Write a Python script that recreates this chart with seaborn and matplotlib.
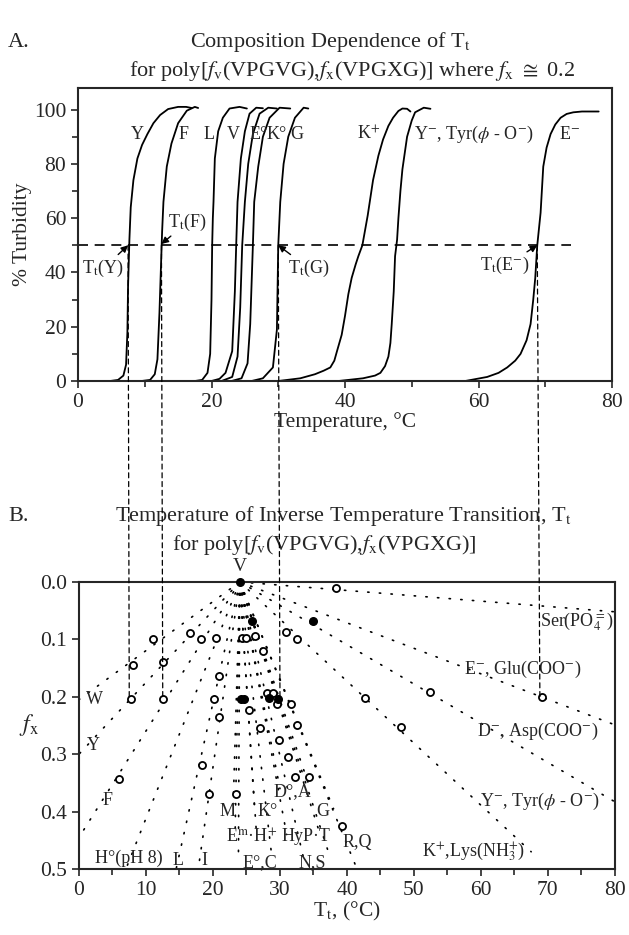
import matplotlib
matplotlib.use("Agg")
import matplotlib.pyplot as plt
import pandas as pd
import seaborn as sns
from matplotlib.patches import ConnectionPatch
from matplotlib.ticker import MultipleLocator

# ---- panel A: turbidity profiles (temperature degC, % turbidity) ----
temp_Y = [4.8, 6.0, 6.8, 7.2, 7.4, 7.5, 7.7, 7.9, 8.3, 8.9, 9.6, 10.4, 11.3, 12.3, 13.5, 15.0, 16.2, 17.0]
turb_Y = [0.0, 0.4, 2.0, 6.0, 18, 35, 52, 64, 74, 82, 87, 91, 95, 98, 100.2, 101, 101, 100.6]
temp_F = [9.5, 10.8, 11.5, 11.9, 12.2, 12.4, 12.6, 12.8, 13.3, 14.0, 15.0, 16.3, 17.5, 18.0]
turb_F = [0.0, 0.4, 2.5, 8, 25, 40, 55, 66, 79, 87.5, 95, 99.6, 101, 100.6]
temp_L = [17.5, 18.6, 19.4, 19.8, 20.0, 20.1, 20.2, 20.3, 20.5, 21.0, 21.7, 22.7, 24.2, 25.3]
turb_L = [0.0, 0.4, 3.0, 10, 30, 50, 60, 66, 82, 92, 97, 100.4, 101, 100.4]
temp_V = [20.0, 21.2, 22.1, 23.1, 23.5, 23.7, 23.9, 24.4, 25.0, 25.7, 26.7, 27.7]
turb_V = [0.0, 0.8, 3.0, 11, 33, 50, 66, 82, 92, 98.5, 100.7, 100.5]
temp_E0 = [21.5, 23.1, 23.9, 24.3, 24.6, 25.0, 25.5, 26.2, 27.2, 28.5, 29.8]
turb_E0 = [0.0, 1.5, 9, 27, 50, 66, 80, 91, 98.5, 100.7, 100.4]
temp_K0 = [23.0, 24.5, 25.4, 25.8, 26.2, 26.4, 27.0, 27.7, 28.7, 30.2, 31.8]
turb_K0 = [0.0, 1.0, 6.5, 21, 50, 66, 79, 90, 97, 100.7, 100.4]
temp_G = [26.0, 27.7, 29.2, 29.8, 30.0, 30.3, 30.8, 31.5, 32.5, 33.8, 34.5]
turb_G = [0.0, 1.0, 5, 19, 50, 66, 80, 90, 97, 100.7, 100.4]
temp_Kp = [30.0, 33.3, 35.5, 36.8, 37.8, 38.4, 38.8, 39.5, 40.0, 40.5, 41.0, 41.6, 42.0, 42.6, 43.4,
           44.2, 45.0, 45.7, 46.5, 47.2, 48.0, 48.6, 49.3, 49.8]
turb_Kp = [0.0, 1.0, 2.5, 3.8, 5, 7.5, 11, 17, 24, 32, 38, 43, 46, 50, 61,
           74, 83, 89, 94, 97, 99.5, 100.4, 100.3, 99.3]
temp_Ym = [39.0, 42.7, 44.5, 45.3, 46.0, 46.5, 46.8, 47.0, 47.3, 47.5, 47.8, 48.0, 48.3, 48.6,
           49.3, 50.0, 50.5, 51.8, 52.8]
turb_Ym = [0.0, 1.0, 2, 3, 5.5, 9, 14, 21, 33, 46, 52, 60, 70, 78, 90, 96, 99, 100.7, 100.3]
temp_Em = [58.0, 61.3, 63.0, 64.3, 65.5, 66.3, 67.2, 67.8, 68.2, 68.5, 68.8, 69.3, 69.7, 70.2,
           70.8, 71.5, 72.3, 73.2, 74.2, 75.5, 76.8, 78.0]
turb_Em = [0.0, 1.5, 3, 5, 7.5, 10, 15, 21, 30, 38, 50, 62, 79, 86, 91, 94.5, 97, 98.4, 99,
           99.3, 99.3, 99.3]

# transition temperatures marked by the 50 % line
tt_names = ["Y", "F", "G", "E-"]
tt_values = [7.5, 12.5, 30.0, 68.8]

# ---- panel B: Tt versus fx ----
line_names = ["W", "Y", "F", "H0", "L", "I", "M", "Em", "E0", "H+", "K0", "C", "D0", "HyP",
              "N", "A", "T", "S", "G", "RQ", "K+", "D-", "E-", "Ser"]
line_end_T = [0.0, 0.0, 0.0, 7.0, 14.5, 17.8, 23.0, 23.3, 23.8, 26.5, 26.2, 28.8, 30.0, 31.0,
              33.5, 34.5, 36.0, 37.5, 38.0, 41.5, 67.5, 80.0, 80.0, 80.0]
line_end_fx = [0.205, 0.300, 0.445, 0.50, 0.50, 0.50, 0.395, 0.44, 0.48, 0.44, 0.395, 0.48, 0.36, 0.44,
               0.48, 0.36, 0.44, 0.48, 0.395, 0.50, 0.47, 0.383, 0.249, 0.052]
v_T, v_fx = 24.0, 0.0

open_T = [11.1, 16.5, 18.2, 20.4, 24.3, 24.9, 26.2, 27.4, 8.0, 12.6, 20.9, 7.8, 12.6, 20.2,
          28.0, 28.9, 29.5, 31.6, 25.4, 20.9, 27.0, 32.6, 29.9, 31.2, 18.4, 5.9, 32.3, 34.4,
          19.4, 23.4, 39.2, 30.9, 32.6, 38.3, 42.7, 52.4, 69.1, 48.1]
open_fx = [0.100, 0.089, 0.099, 0.098, 0.098, 0.098, 0.095, 0.121, 0.145, 0.140, 0.163, 0.204,
           0.204, 0.204, 0.193, 0.193, 0.212, 0.212, 0.223, 0.235, 0.254, 0.250, 0.275, 0.305,
           0.318, 0.343, 0.340, 0.340, 0.370, 0.370, 0.425, 0.088, 0.099, 0.010, 0.203, 0.192,
           0.201, 0.253]
filled_T = [24.0, 25.8, 34.9, 24.2, 24.7, 28.3, 29.7]
filled_fx = [0.0, 0.068, 0.068, 0.204, 0.204, 0.203, 0.204]


def setup():
    sns.set_theme(style="ticks")
    plt.rcParams["font.family"] = ["Liberation Serif", "DejaVu Serif"]
    plt.rcParams["mathtext.fontset"] = "stix"
    plt.rcParams["axes.linewidth"] = 1.5
    for ax in ("xtick", "ytick"):
        plt.rcParams[f"{ax}.major.width"] = 1.2
        plt.rcParams[f"{ax}.minor.width"] = 1.2
        plt.rcParams[f"{ax}.major.size"] = 5
        plt.rcParams[f"{ax}.minor.size"] = 4.5
        plt.rcParams[f"{ax}.labelsize"] = 15.5


def plot_panel_a(ax):
    curves = {
        "Y": (temp_Y, turb_Y), "F": (temp_F, turb_F), "L": (temp_L, turb_L),
        "V": (temp_V, turb_V), "E0": (temp_E0, turb_E0), "K0": (temp_K0, turb_K0),
        "G": (temp_G, turb_G), "K+": (temp_Kp, turb_Kp), "Y-": (temp_Ym, turb_Ym),
        "E-": (temp_Em, turb_Em),
    }
    rows = []
    for name, (tt, pp) in curves.items():
        for t, p in zip(tt, pp):
            rows.append({"curve": name, "temp": t, "turb": p})
    df = pd.DataFrame(rows)
    sns.lineplot(data=df, x="temp", y="turb", units="curve", estimator=None, sort=False,
                 color="black", lw=1.3, ax=ax)
    ax.axhline(50, xmin=0, xmax=73.8 / 80, color="black", lw=1.2, linestyle=(0, (6, 4)))

    ax.set_xlim(0, 80)
    ax.set_ylim(0, 108)
    ax.xaxis.set_major_locator(MultipleLocator(20))
    ax.xaxis.set_minor_locator(MultipleLocator(10))
    ax.yaxis.set_major_locator(MultipleLocator(20))
    ax.yaxis.set_minor_locator(MultipleLocator(10))
    ax.set_xlabel("Temperature, °C", fontsize=15.5, labelpad=0)
    ax.set_ylabel("% Turbidity", fontsize=15.5, labelpad=1)

    fs = 13
    for lab, t in [("Y", 8.9), ("F", 15.8), ("L", 19.6), ("V", 23.3), ("E°", 27.0),
                   ("K°", 29.8), ("G", 32.8), ("K$^{+}$", 43.6)]:
        ax.text(t, 91, lab, ha="center", va="center", fontsize=fs)
    ax.text(50.3, 91, r"Y$^{-}$, Tyr($\phi$ - O$^{-}$)", ha="left", va="center", fontsize=fs)
    ax.text(72.0, 91, r"E$^{-}$", ha="left", va="center", fontsize=fs)

    arrow = dict(arrowstyle="-|>", color="black", lw=1.0, mutation_scale=10, shrinkA=0, shrinkB=0)
    ax.annotate(r"T$_{\rm t}$(Y)", xy=(tt_values[0], 50), xytext=(3.8, 41.5), ha="center",
                va="center", fontsize=fs, arrowprops=arrow)
    ax.annotate(r"T$_{\rm t}$(F)", xy=(tt_values[1], 50.5), xytext=(16.4, 58.5), ha="center",
                va="center", fontsize=fs, arrowprops=arrow)
    ax.annotate(r"T$_{\rm t}$(G)", xy=(tt_values[2], 50), xytext=(34.6, 41.5), ha="center",
                va="center", fontsize=fs, arrowprops=arrow)
    ax.annotate(r"T$_{\rm t}$(E$^{-}$)", xy=(tt_values[3], 50), xytext=(64.0, 42.5), ha="center",
                va="center", fontsize=fs, arrowprops=arrow)


def plot_panel_b(ax):
    rows = []
    for name, t, f in zip(line_names, line_end_T, line_end_fx):
        rows.append({"line": name, "T": v_T, "fx": v_fx})
        rows.append({"line": name, "T": t, "fx": f})
    df = pd.DataFrame(rows)
    sns.lineplot(data=df, x="T", y="fx", units="line", estimator=None, sort=False,
                 color="black", lw=1.2, linestyle=(0, (0.8, 6.2)), dash_capstyle="round", ax=ax)
    sns.scatterplot(x=open_T, y=open_fx, marker="o", s=26, color="white", edgecolor="black",
                    linewidth=1.3, zorder=4, ax=ax)
    sns.scatterplot(x=filled_T, y=filled_fx, marker="o", s=30, color="black", edgecolor="black",
                    linewidth=1.0, zorder=4, clip_on=False, ax=ax)

    ax.set_xlim(0, 80)
    ax.set_ylim(0.5, 0.0)
    ax.xaxis.set_major_locator(MultipleLocator(10))
    ax.xaxis.set_minor_locator(MultipleLocator(5))
    ax.yaxis.set_major_locator(MultipleLocator(0.1))
    ax.yaxis.set_major_formatter(lambda v, p: f"{v:.1f}")
    ax.set_xlabel(r"T$_{\rm t}$, (°C)", fontsize=15.5, labelpad=0)
    ax.set_ylabel(r"$f_{\rm x}$", fontsize=17, rotation=0, labelpad=8, va="center")

    fs = 13
    ax.text(24.0, -0.012, "V", ha="center", va="bottom", fontsize=14, clip_on=False)
    labels = [
        ("W", 1.0, 0.205), ("Y", 1.2, 0.285), ("F", 3.5, 0.380), ("H°(pH 8)", 2.4, 0.482),
        ("L", 14.0, 0.485), ("I", 18.3, 0.485), ("M", 21.0, 0.400), ("K°", 26.6, 0.400),
        ("D°,A", 29.0, 0.366), ("G", 35.4, 0.400), ("E$^{\\rm m}$·H$^{+}$", 22.0, 0.444),
        ("HyP·T", 30.3, 0.444), ("R,Q", 39.3, 0.453), ("E°,C", 24.4, 0.488), ("N,S", 32.8, 0.488),
        ("K$^{+}$,Lys(NH$_3^{+}$)", 51.2, 0.470), ("Y$^{-}$, Tyr($\\phi$ - O$^{-}$)", 59.9, 0.383),
        ("D$^{-}$, Asp(COO$^{-}$)", 59.4, 0.261), ("E$^{-}$, Glu(COO$^{-}$)", 57.4, 0.153),
        ("Ser(PO$_4^{=}$)", 68.8, 0.070),
    ]
    for lab, t, f in labels:
        ax.text(t, f, lab, ha="left", va="center", fontsize=fs)


def main():
    setup()
    fig = plt.figure(figsize=(6.29, 9.35), dpi=100)
    ax1 = fig.add_axes([0.124, 0.5925, 0.849, 0.3135])
    ax2 = fig.add_axes([0.1256, 0.0706, 0.852, 0.307])
    plot_panel_a(ax1)
    plot_panel_b(ax2)

    for t in tt_values:
        con = ConnectionPatch(xyA=(t, 50), coordsA=ax1.transData, xyB=(t, 0.2),
                              coordsB=ax2.transData, color="black", lw=0.9,
                              linestyle=(0, (4, 3)), zorder=5)
        fig.add_artist(con)

    fig.text(0.013, 0.955, "A.", fontsize=16, ha="left", va="center")
    fig.text(0.525, 0.955, r"Composition Dependence of T$_{\rm t}$", fontsize=16,
             ha="center", va="center")
    fig.text(0.56, 0.924, r"for poly[$f_{\rm v}$(VPGVG),$f_{\rm x}$(VPGXG)] where $f_{\rm x}$ $\cong$ 0.2",
             fontsize=16, ha="center", va="center")
    fig.text(0.013, 0.448, "B.", fontsize=16, ha="left", va="center")
    fig.text(0.545, 0.448, r"Temperature of Inverse Temperature Transition, T$_{\rm t}$",
             fontsize=16, ha="center", va="center")
    fig.text(0.515, 0.417, r"for poly[$f_{\rm v}$(VPGVG),$f_{\rm x}$(VPGXG)]", fontsize=16,
             ha="center", va="center")

    fig.savefig("out.png", dpi=100)
    plt.close(fig)


if __name__ == "__main__":
    main()
